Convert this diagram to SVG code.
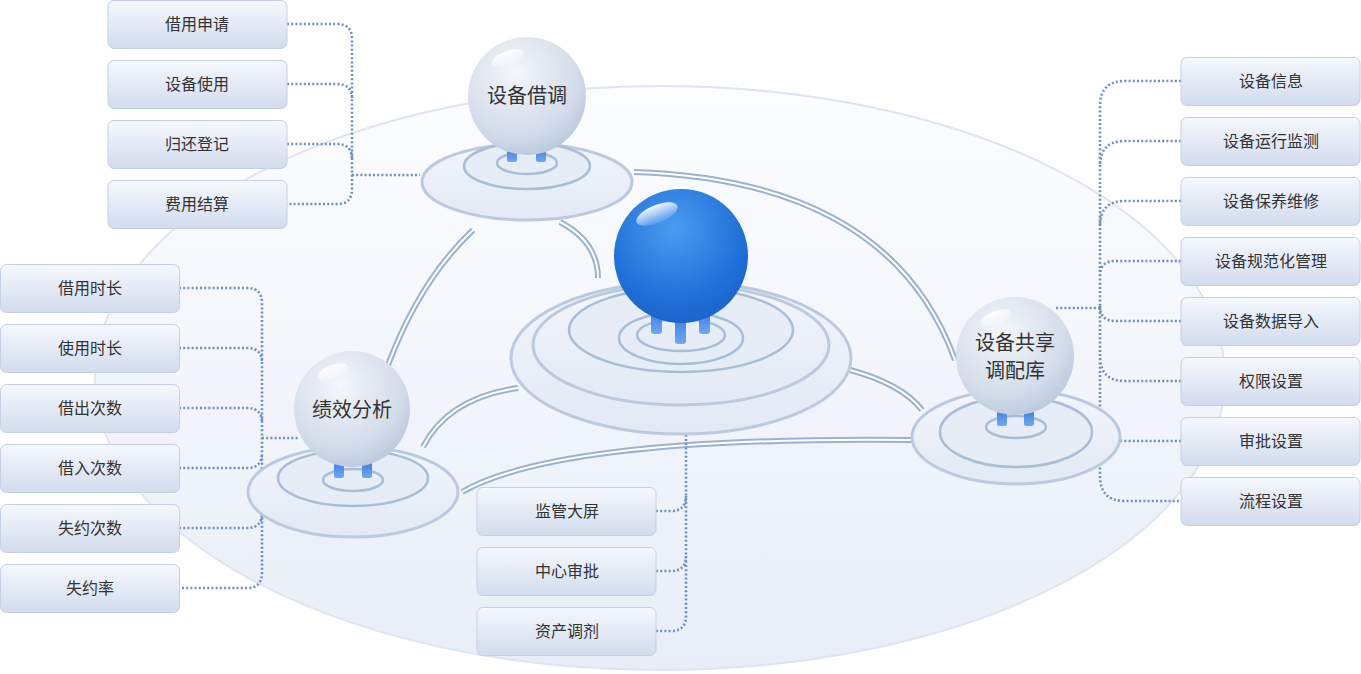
<svg xmlns="http://www.w3.org/2000/svg" width="1361" height="674" viewBox="0 0 1361 674">
<defs>
<linearGradient id="box" x1="0" y1="0" x2="0" y2="1"><stop offset="0" stop-color="#f5f8fd"/><stop offset="1" stop-color="#d2dcee"/></linearGradient>
<linearGradient id="big" x1="0" y1="0" x2="0" y2="1"><stop offset="0" stop-color="#fcfdfe"/><stop offset="1" stop-color="#e8eef8"/></linearGradient>
<radialGradient id="gs" cx="0.4" cy="0.3" r="0.75"><stop offset="0" stop-color="#f4f7fb"/><stop offset="0.7" stop-color="#d3dcea"/><stop offset="1" stop-color="#b9c7dc"/></radialGradient>
<radialGradient id="bs" cx="0.45" cy="0.3" r="0.75"><stop offset="0" stop-color="#4a9cf0"/><stop offset="0.7" stop-color="#1f6fd8"/><stop offset="1" stop-color="#1b62c8"/></radialGradient>
<linearGradient id="hl" x1="0" y1="0" x2="0" y2="1"><stop offset="0" stop-color="#fff" stop-opacity="0.95"/><stop offset="1" stop-color="#fff" stop-opacity="0.1"/></linearGradient>
<linearGradient id="pil" x1="0" y1="0" x2="0" y2="1"><stop offset="0" stop-color="#3c7ee0"/><stop offset="1" stop-color="#6faaf5"/></linearGradient>
<linearGradient id="plate" x1="0" y1="0" x2="0" y2="1"><stop offset="0" stop-color="#f2f6fc"/><stop offset="1" stop-color="#e2e9f5"/></linearGradient>
</defs>
<style>
.b{fill:url(#box);stroke:#c4d0e4;stroke-width:1}
.t{font-family:"Noto Sans CJK SC","Liberation Sans",sans-serif;font-size:16px;fill:#333;text-anchor:middle}
.nt{font-family:"Noto Sans CJK SC","Liberation Sans",sans-serif;font-size:20px;fill:#333;text-anchor:middle}
.d{fill:none;stroke:#6f8fbf;stroke-width:2.6;stroke-dasharray:2 2.2}
.c1{fill:none;stroke:#9ab2cc;stroke-width:6}
.c2{fill:none;stroke:#fff;stroke-width:2}
.p{fill:url(#plate);stroke:#bccadd;stroke-width:3}
.pi{fill:#e6edf7;stroke:#a9bdd4;stroke-width:2.5}
.pl{fill:url(#pil)}
</style>
<ellipse cx="660" cy="378" rx="565" ry="292" fill="url(#big)" stroke="#dde5f0" stroke-width="2"/>
<g id="connectors">
<g>
<path class="c1" d="M473,230 Q420,280 388,365"/><path class="c2" d="M473,230 Q420,280 388,365"/>
<path class="c1" d="M560,222 Q598,242 598,278"/><path class="c2" d="M560,222 Q598,242 598,278"/>
<path class="c1" d="M634,172 Q890,180 955,360"/><path class="c2" d="M634,172 Q890,180 955,360"/>
<path class="c1" d="M518,388 Q448,398 423,447"/><path class="c2" d="M518,388 Q448,398 423,447"/>
<path class="c1" d="M850,370 Q902,384 922,410"/><path class="c2" d="M850,370 Q902,384 922,410"/>
<path class="c1" d="M462,492 Q560,436 912,440"/><path class="c2" d="M462,492 Q560,436 912,440"/>
</g>
<path class="d" d="M287,24 H337 Q352,24 352,39 V189 Q352,204 337,204 H287 M287,84 H337 Q352,84 352,99 M287,144 H337 Q352,144 352,159 M352,175 H420"/>
<path class="d" d="M179,288 H247 Q262,288 262,303 V573 Q262,588 247,588 H179 M179,348 H247 Q262,348 262,363 M179,408 H247 Q262,408 262,423 M179,468 H247 Q262,468 262,453 M179,528 H247 Q262,528 262,513 M262,438 H298"/>
<path class="d" d="M656,511 H671 Q686,511 686,496 M656,571 H671 Q686,571 686,556 M656,631 H671 Q686,631 686,616 V378"/>
<path class="d" d="M1181,81 H1125 Q1100,81 1100,106 V476 Q1100,501 1125,501 H1181 M1181,141 H1125 Q1100,141 1100,166 M1181,201 H1125 Q1100,201 1100,226 M1181,261 H1115 Q1100,261 1100,276 M1181,321 H1115 Q1100,321 1100,306 M1181,381 H1125 Q1100,381 1100,356 M1181,441 H1125 Q1100,441 1100,416 M1100,308 H1055"/>
</g>
<g id="n-jd">
<ellipse class="p" cx="527" cy="182" rx="105" ry="38"/>
<ellipse class="pi" cx="527" cy="166" rx="63" ry="23"/>
<ellipse class="pi" cx="527" cy="163" rx="30" ry="11"/>
<rect class="pl" x="507" y="148" width="10" height="14" rx="2"/><rect class="pl" x="536" y="148" width="10" height="14" rx="2"/>
<circle cx="527" cy="96" r="59" fill="url(#gs)"/>
<ellipse cx="508" cy="58" rx="17" ry="7" fill="url(#hl)" transform="rotate(-20 508 58)"/>
<text class="nt" x="527" y="103">设备借调</text>
</g>
<g id="n-center">
<ellipse class="p" cx="681" cy="358" rx="170" ry="76" stroke-width="2"/>
<ellipse class="p" cx="681" cy="345" rx="148" ry="60" fill="#e3ebf7"/>
<ellipse class="pi" cx="681" cy="330" rx="112" ry="42"/>
<ellipse class="pi" cx="681" cy="338" rx="62" ry="26"/>
<ellipse class="pi" cx="681" cy="335" rx="44" ry="16"/>
<rect class="pl" x="651" y="312" width="11" height="22" rx="3"/><rect class="pl" x="675" y="318" width="11" height="26" rx="3"/><rect class="pl" x="699" y="312" width="11" height="22" rx="3"/>
<circle cx="681" cy="256" r="67" fill="url(#bs)"/>
<ellipse cx="657" cy="214" rx="22" ry="9" fill="url(#hl)" transform="rotate(-22 657 214)"/>
</g>
<g id="n-jx">
<ellipse class="p" cx="353" cy="492" rx="105" ry="45"/>
<ellipse class="pi" cx="353" cy="478" rx="75" ry="28"/>
<ellipse class="pi" cx="353" cy="480" rx="30" ry="11"/>
<rect class="pl" x="334" y="462" width="10" height="16" rx="2"/><rect class="pl" x="362" y="462" width="10" height="16" rx="2"/>
<circle cx="352" cy="409" r="58" fill="url(#gs)"/>
<ellipse cx="333" cy="372" rx="16" ry="7" fill="url(#hl)" transform="rotate(-20 333 372)"/>
<text class="nt" x="352" y="417">绩效分析</text>
</g>
<g id="n-gx">
<ellipse class="p" cx="1016" cy="437" rx="104" ry="47"/>
<ellipse class="pi" cx="1016" cy="432" rx="76" ry="35"/>
<ellipse class="pi" cx="1016" cy="427" rx="30" ry="11"/>
<rect class="pl" x="997" y="410" width="10" height="16" rx="2"/><rect class="pl" x="1024" y="410" width="10" height="16" rx="2"/>
<circle cx="1015" cy="356" r="59" fill="url(#gs)"/>
<ellipse cx="996" cy="318" rx="16" ry="7" fill="url(#hl)" transform="rotate(-20 996 318)"/>
<text class="nt" x="1015" y="350">设备共享</text>
<text class="nt" x="1015" y="378">调配库</text>
</g>
<g id="left-top">
<g id="b1"><rect class="b" x="108" y="0.5" width="179" height="48" rx="6"/><text class="t" x="197" y="30">借用申请</text></g>
<g id="b2"><rect class="b" x="108" y="60.5" width="179" height="48" rx="6"/><text class="t" x="197" y="90">设备使用</text></g>
<g id="b3"><rect class="b" x="108" y="120.5" width="179" height="48" rx="6"/><text class="t" x="197" y="150">归还登记</text></g>
<g id="b4"><rect class="b" x="108" y="180.5" width="179" height="48" rx="6"/><text class="t" x="197" y="210">费用结算</text></g>
</g>
<g id="left-mid">
<g id="b5"><rect class="b" x="0.5" y="264.5" width="179" height="48" rx="6"/><text class="t" x="90" y="294">借用时长</text></g>
<g id="b6"><rect class="b" x="0.5" y="324.5" width="179" height="48" rx="6"/><text class="t" x="90" y="354">使用时长</text></g>
<g id="b7"><rect class="b" x="0.5" y="384.5" width="179" height="48" rx="6"/><text class="t" x="90" y="414">借出次数</text></g>
<g id="b8"><rect class="b" x="0.5" y="444.5" width="179" height="48" rx="6"/><text class="t" x="90" y="474">借入次数</text></g>
<g id="b9"><rect class="b" x="0.5" y="504.5" width="179" height="48" rx="6"/><text class="t" x="90" y="534">失约次数</text></g>
<g id="b10"><rect class="b" x="0.5" y="564.5" width="179" height="48" rx="6"/><text class="t" x="90" y="594">失约率</text></g>
</g>
<g id="bottom">
<g id="b11"><rect class="b" x="477" y="487.5" width="179" height="48" rx="6"/><text class="t" x="567" y="517">监管大屏</text></g>
<g id="b12"><rect class="b" x="477" y="547.5" width="179" height="48" rx="6"/><text class="t" x="567" y="577">中心审批</text></g>
<g id="b13"><rect class="b" x="477" y="607.5" width="179" height="48" rx="6"/><text class="t" x="567" y="637">资产调剂</text></g>
</g>
<g id="right">
<g id="b14"><rect class="b" x="1181" y="57.5" width="179" height="48" rx="6"/><text class="t" x="1271" y="87">设备信息</text></g>
<g id="b15"><rect class="b" x="1181" y="117.5" width="179" height="48" rx="6"/><text class="t" x="1271" y="147">设备运行监测</text></g>
<g id="b16"><rect class="b" x="1181" y="177.5" width="179" height="48" rx="6"/><text class="t" x="1271" y="207">设备保养维修</text></g>
<g id="b17"><rect class="b" x="1181" y="237.5" width="179" height="48" rx="6"/><text class="t" x="1271" y="267">设备规范化管理</text></g>
<g id="b18"><rect class="b" x="1181" y="297.5" width="179" height="48" rx="6"/><text class="t" x="1271" y="327">设备数据导入</text></g>
<g id="b19"><rect class="b" x="1181" y="357.5" width="179" height="48" rx="6"/><text class="t" x="1271" y="387">权限设置</text></g>
<g id="b20"><rect class="b" x="1181" y="417.5" width="179" height="48" rx="6"/><text class="t" x="1271" y="447">审批设置</text></g>
<g id="b21"><rect class="b" x="1181" y="477.5" width="179" height="48" rx="6"/><text class="t" x="1271" y="507">流程设置</text></g>
</g>
</svg>
